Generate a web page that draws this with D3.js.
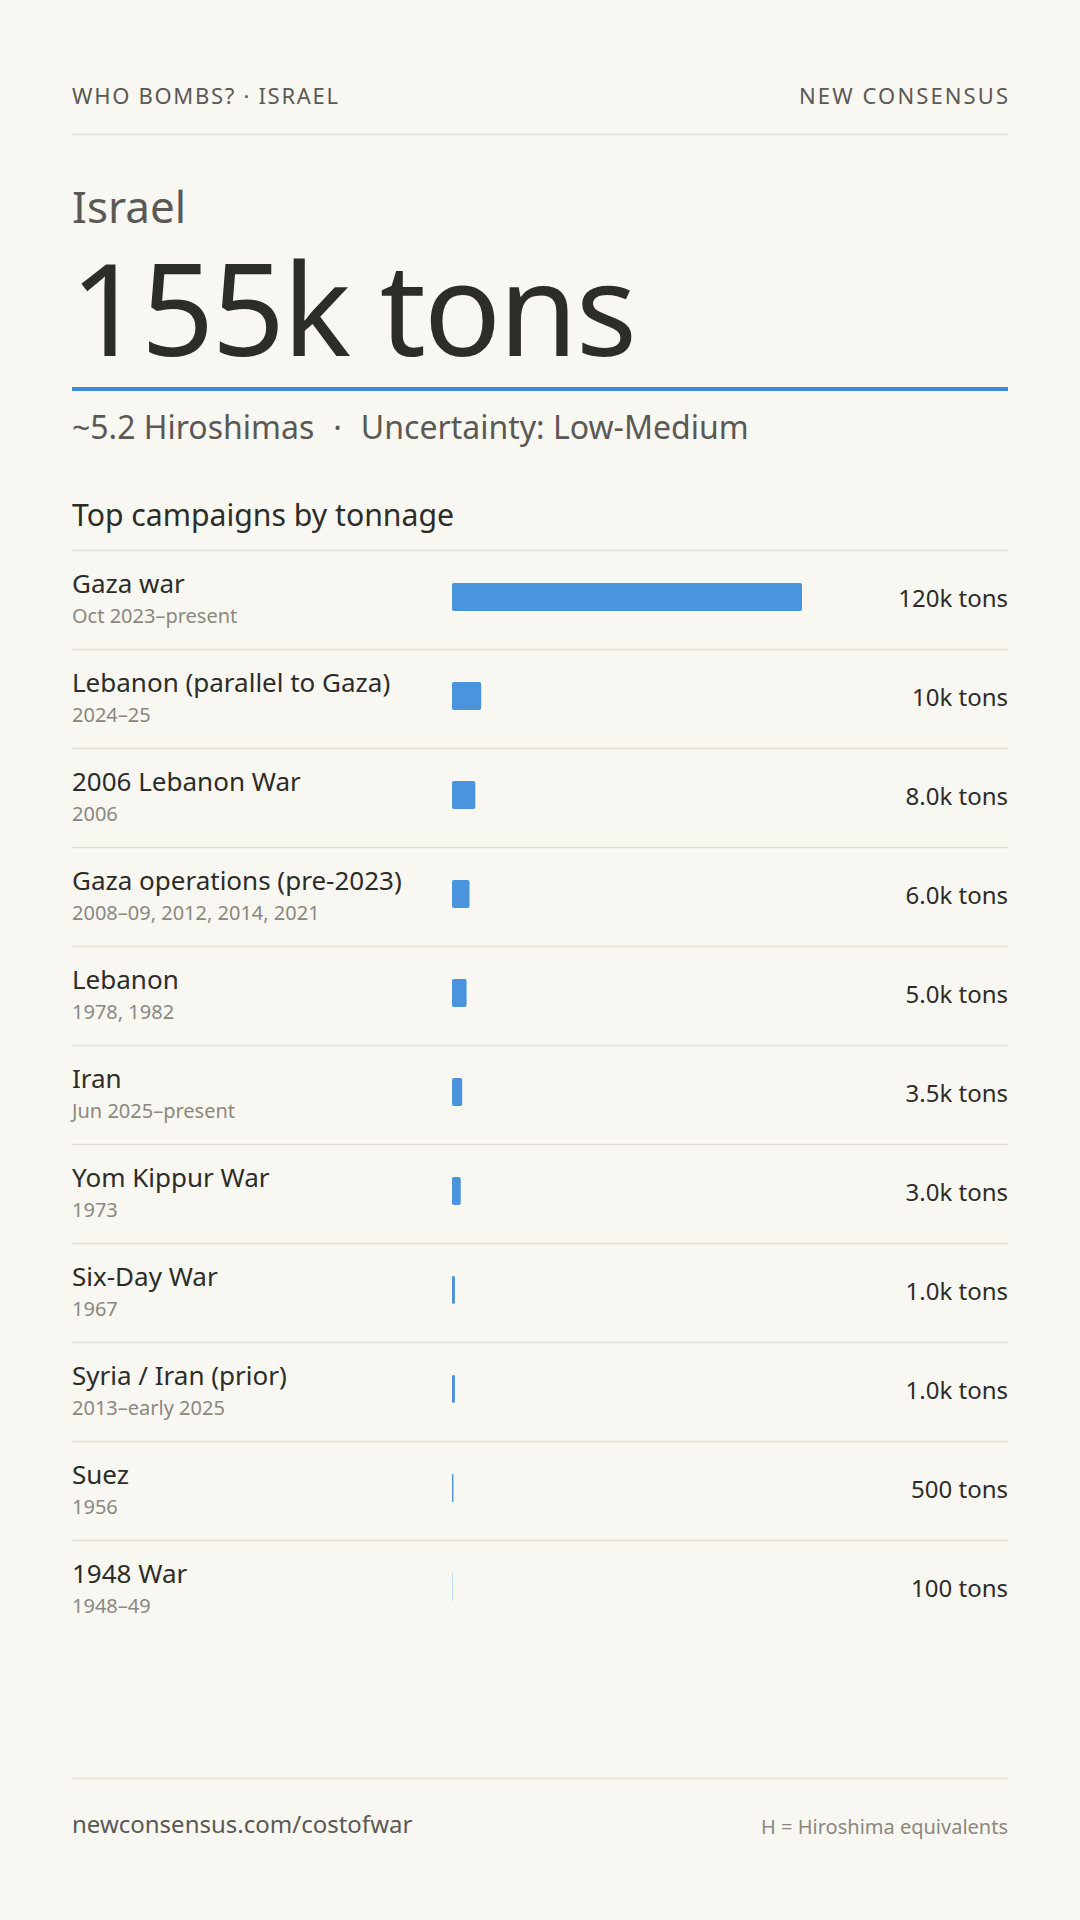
<!DOCTYPE html>
<html>
<head>
<meta charset="utf-8">
<script src="https://cdn.jsdelivr.net/npm/d3@7"></script>
<style>
  html, body { margin: 0; padding: 0; background: #f9f7f1; }
  svg { display: block; font-family: "Noto Sans", "Open Sans", sans-serif; }
</style>
</head>
<body>
<svg id="chart" width="1080" height="1920"></svg>
<script>
// campaigns, sorted by tonnage
const campaigns = [
  "Gaza war",
  "Lebanon (parallel to Gaza)",
  "2006 Lebanon War",
  "Gaza operations (pre-2023)",
  "Lebanon",
  "Iran",
  "Yom Kippur War",
  "Six-Day War",
  "Syria / Iran (prior)",
  "Suez",
  "1948 War"
];
const periods = [
  "Oct 2023–present",
  "2024–25",
  "2006",
  "2008–09, 2012, 2014, 2021",
  "1978, 1982",
  "Jun 2025–present",
  "1973",
  "1967",
  "2013–early 2025",
  "1956",
  "1948–49"
];
const tonnage = [120000, 10000, 8000, 6000, 5000, 3500, 3000, 1000, 1000, 500, 100];

const totalLabel = "155k tons";
const subParts = ["~5.2 Hiroshimas", "·", "Uncertainty: Low-Medium"];

const W = 1080, left = 72, right = 1008;
const rowTop = 550, rowH = 99;
const barX = 452, barMaxW = 350;

const fmt = v => v >= 10000 ? (v / 1000) + "k tons"
  : v >= 1000 ? (v / 1000).toFixed(1) + "k tons"
  : v + " tons";

const svg = d3.select("#chart");
svg.append("rect").attr("width", W).attr("height", 1920).attr("fill", "#f9f7f1");

// header
svg.append("text")
  .attr("x", left).attr("y", 104)
  .attr("font-size", 22).attr("letter-spacing", 1.7)
  .attr("fill", "#5a5955")
  .text("WHO BOMBS? · ISRAEL");
svg.append("text")
  .attr("x", right + 2.1).attr("y", 104)
  .attr("text-anchor", "end")
  .attr("font-size", 22).attr("letter-spacing", 2.1)
  .attr("fill", "#5a5955")
  .text("NEW CONSENSUS");
svg.append("line")
  .attr("x1", left).attr("x2", right).attr("y1", 134.5).attr("y2", 134.5)
  .attr("stroke", "#e3dfd3").attr("stroke-width", 1.5);

// title block
svg.append("text")
  .attr("x", left).attr("y", 223)
  .attr("font-size", 44).attr("fill", "#5a5955")
  .text("Israel");
svg.append("text")
  .attr("x", left - 2).attr("y", 356)
  .attr("font-size", 128).attr("fill", "#2c2c29")
  .attr("letter-spacing", -2.3)
  .text(totalLabel);
svg.append("rect")
  .attr("x", left).attr("y", 387).attr("width", right - left).attr("height", 4)
  .attr("fill", "#3a8be0");

const sub = svg.append("text")
  .attr("x", left).attr("y", 439)
  .attr("font-size", 32).attr("fill", "#5a5955");
sub.selectAll("tspan")
  .data(subParts)
  .join("tspan")
  .attr("dx", (d, i) => i === 0 ? 0 : 19)
  .text(d => d);

svg.append("text")
  .attr("x", left).attr("y", 526)
  .attr("font-size", 30.2).attr("fill", "#2c2c29")
  .text("Top campaigns by tonnage");

// bars
const x = d3.scaleLinear()
  .domain([0, d3.max(tonnage)])
  .range([0, barMaxW]);
const y = d3.scaleBand()
  .domain(campaigns)
  .range([rowTop, rowTop + rowH * campaigns.length]);

const rows = svg.append("g").selectAll("g")
  .data(campaigns)
  .join("g")
  .attr("transform", d => `translate(0,${y(d)})`);

rows.append("line")
  .attr("x1", left).attr("x2", right).attr("y1", 0.5).attr("y2", 0.5)
  .attr("stroke", "#e3dfd3").attr("stroke-width", 1.5);

rows.append("text")
  .attr("x", left).attr("y", 43)
  .attr("font-size", 26).attr("fill", "#2c2c29")
  .text(d => d);

rows.append("text")
  .attr("x", left).attr("y", 73)
  .attr("font-size", 20).attr("fill", "#8a8880")
  .text((d, i) => periods[i]);

rows.append("rect")
  .attr("x", barX).attr("y", 33)
  .attr("width", (d, i) => x(tonnage[i]))
  .attr("height", 28)
  .attr("rx", (d, i) => Math.min(2, x(tonnage[i]) / 2))
  .attr("fill", "#4a94de");

rows.append("text")
  .attr("x", right).attr("y", 57)
  .attr("text-anchor", "end")
  .attr("font-size", 24).attr("fill", "#2c2c29")
  .text((d, i) => fmt(tonnage[i]));

// footer
svg.append("line")
  .attr("x1", left).attr("x2", right).attr("y1", 1778.5).attr("y2", 1778.5)
  .attr("stroke", "#e3dfd3").attr("stroke-width", 1.5);
svg.append("text")
  .attr("x", left).attr("y", 1833)
  .attr("font-size", 24).attr("fill", "#5a5955")
  .text("newconsensus.com/costofwar");
svg.append("text")
  .attr("x", right).attr("y", 1834)
  .attr("text-anchor", "end")
  .attr("font-size", 20).attr("fill", "#8a8880")
  .text("H = Hiroshima equivalents");
</script>
</body>
</html>
